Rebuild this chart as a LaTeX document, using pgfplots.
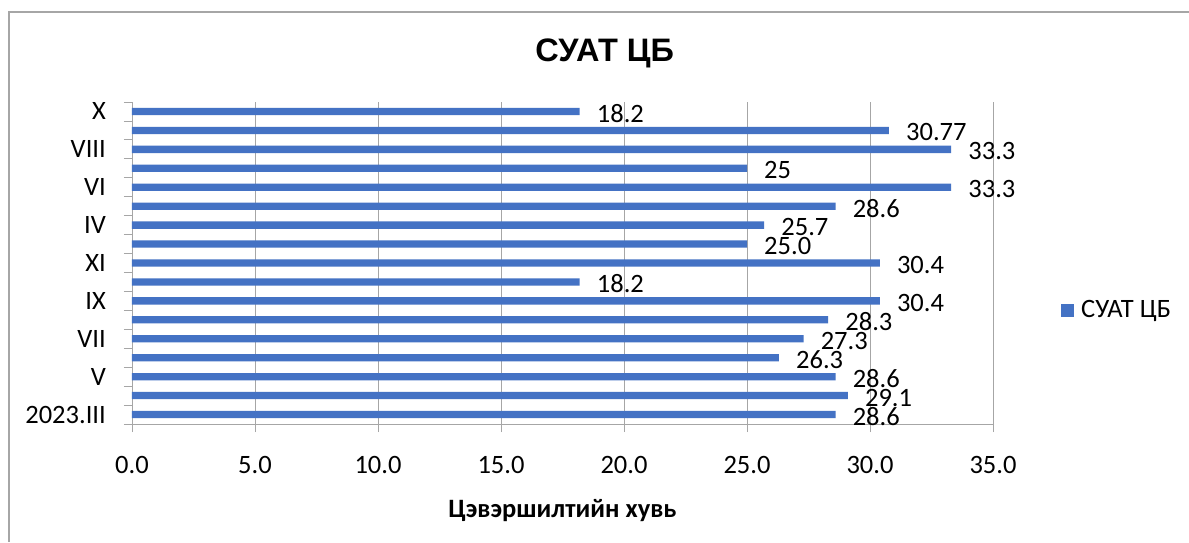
\documentclass[border=0pt]{standalone}
\usepackage{pgfplots}
\pgfplotsset{compat=1.18}
\usepackage{pgfplotstable}
\usepackage{fontspec}
\setmainfont{Carlito}
\newfontfamily\titlefont{Liberation Sans}
\definecolor{barblue}{HTML}{4472C4}
\definecolor{gridgray}{HTML}{A6A6A6}
\newcommand\lbl{\fontsize{26.5}{30}\selectfont}
\pgfplotstableread{
y x lab
1 28.6 28.6
2 29.1 29.1
3 28.6 28.6
4 26.3 26.3
5 27.3 27.3
6 28.3 28.3
7 30.4 30.4
8 18.2 18.2
9 30.4 30.4
10 25.0 25.0
11 25.7 25.7
12 28.6 28.6
13 33.3 33.3
14 25 25
15 33.3 33.3
16 30.77 30.77
17 18.2 18.2
}\datatable
\begin{document}
\begin{tikzpicture}
\useasboundingbox (0pt,0pt) rectangle (1189pt,542pt);
\fill[white] (0pt,0pt) rectangle (1189pt,542pt);
\draw[gridgray, line width=1.5pt] (9pt,0pt) -- (9pt,530pt) -- (1189pt,530pt);
\begin{axis}[
  at={(132pt,118pt)}, anchor=south west,
  scale only axis, width=861pt, height=322pt,
  xbar, bar width=7.3pt,
  xmin=0, xmax=35, ymin=0.5, ymax=17.5,
  axis lines*=left,
  axis line style={gridgray, line width=0.8pt},
  tick style={gridgray, line width=0.8pt},
  tick align=outside, major tick length=8pt,
  xtick={0,5,...,35},
  xmajorgrids=true,
  grid style={gridgray, line width=0.8pt},
  ytick={0.5,1.5,...,17.5},
  yticklabels={2023.III,,V,,VII,,IX,,XI,,IV,,VI,,VIII,,X,},
  yticklabel style={anchor=east, inner sep=0pt, xshift=-18pt, yshift=9.47pt, font=\lbl},
  xticklabel style={anchor=base, inner sep=0pt, yshift=-41pt, font=\lbl},
  /pgf/number format/.cd, fixed, fixed zerofill, precision=1, assume math mode=true,
  /pgfplots/.cd,
  title={СУАТ ЦБ},
  title style={at={(axis description cs:0.549,1.106)}, anchor=base, inner sep=0pt,
    font=\titlefont\bfseries\fontsize{32.5}{36}\selectfont},
  xlabel={Цэвэршилтийн хувь},
  xlabel style={at={(axis description cs:0.5,-0.29)}, anchor=base, inner sep=0pt,
    font=\bfseries\fontsize{26.5}{30}\selectfont},
  legend style={at={(axis description cs:1.079,0.354)}, anchor=west, draw=none, fill=none,
    inner sep=0pt, column sep=7pt, nodes={inner sep=0pt}, font=\lbl},
  legend image code/.code={\fill[barblue] (0pt,-6.5pt) rectangle (13pt,6.5pt);},
  nodes near coords,
  point meta=explicit symbolic,
  nodes near coords style={anchor=west, inner sep=0pt, xshift=17pt, yshift=-2pt, font=\lbl, text=black},
]
\addplot[fill=barblue, draw=none] table[x=x, y=y, meta=lab] {\datatable};
\addlegendentry{СУАТ ЦБ}
\end{axis}
\end{tikzpicture}
\end{document}
